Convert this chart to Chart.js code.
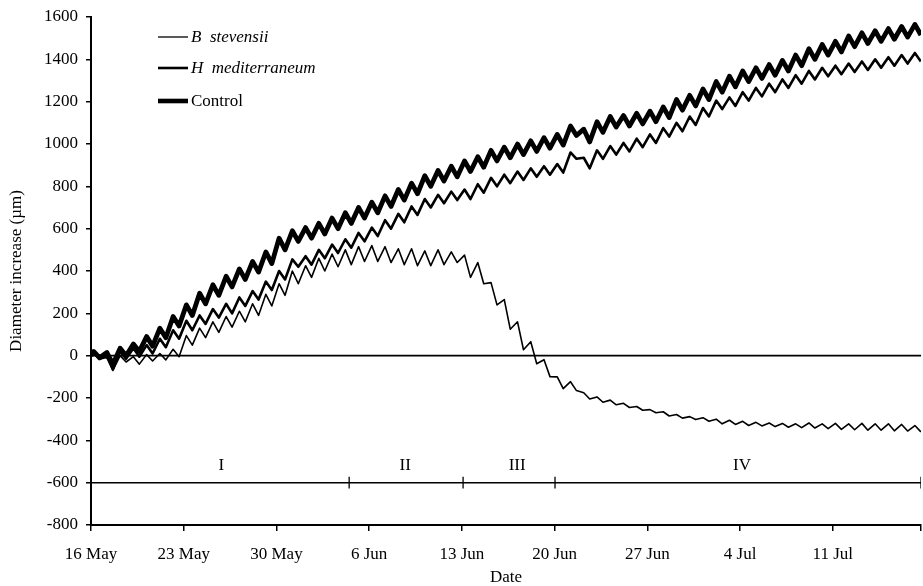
<!DOCTYPE html>
<html>
<head>
<meta charset="utf-8">
<script src="https://cdn.jsdelivr.net/npm/chart.js@4.4.1/dist/chart.umd.min.js"></script>
<style>
html,body{margin:0;padding:0;background:#fff;}
#wrap{width:923px;height:586px;position:relative;}
</style>
</head>
<body>
<div id="wrap"><canvas id="c" width="923" height="586"></canvas></div>
<script>
// ---- Data ----
// Date axis: days after 16 May
const tickDays   = [0, 7, 14, 21, 28, 35, 42, 49, 56];
const tickLabels = ['16 May', '23 May', '30 May', '6 Jun', '13 Jun', '20 Jun', '27 Jun', '4 Jul', '11 Jul'];
const lastDay = 62.66;

// Daily maximum (early morning) and minimum (afternoon) diameter increase, µm, days 0..62
const controlPeak   = [20,15,35,55,90,130,185,240,295,335,375,410,445,490,555,590,605,625,650,675,700,725,755,785,815,850,875,895,920,940,970,985,1000,1015,1030,1045,1085,1070,1105,1130,1135,1145,1155,1175,1210,1230,1260,1295,1320,1345,1360,1375,1395,1420,1450,1470,1485,1510,1525,1535,1545,1555,1565];
const controlTrough = [-10,-40,0,20,45,85,140,190,245,285,325,360,395,435,500,540,555,575,600,625,650,675,705,735,765,800,825,845,870,890,920,935,950,965,980,995,1040,1010,1055,1080,1085,1095,1105,1125,1160,1180,1210,1245,1270,1295,1310,1325,1345,1370,1400,1420,1435,1460,1475,1485,1495,1505,1515];

const hmedPeak   = [15,-5,20,35,50,80,120,165,190,220,245,275,305,350,400,455,470,500,525,550,580,605,640,670,705,740,760,775,785,810,840,855,870,885,895,905,960,935,970,990,1005,1025,1045,1075,1100,1130,1170,1205,1220,1245,1265,1285,1305,1325,1345,1360,1370,1380,1390,1400,1410,1420,1430];
const hmedTrough = [-15,-65,-15,-5,10,40,80,120,150,180,200,235,265,310,360,420,430,460,485,510,540,565,600,630,665,700,720,735,740,770,800,815,830,845,855,865,930,885,930,950,965,985,1005,1035,1060,1090,1130,1165,1180,1205,1225,1245,1265,1285,1305,1320,1330,1340,1350,1360,1370,1380,1390];

const bstevPeak   = [10,0,0,-5,5,10,30,95,130,160,185,210,245,290,340,400,425,460,480,500,515,520,515,505,505,495,500,490,475,440,345,265,160,66,-19,-100,-123,-175,-195,-210,-225,-240,-255,-265,-278,-288,-293,-300,-305,-310,-315,-318,-320,-322,-318,-322,-320,-322,-320,-322,-322,-325,-330];
const bstevTrough = [-10,-70,-30,-40,-25,-20,-5,50,85,110,135,160,190,235,285,340,370,400,420,430,445,445,440,430,425,425,430,440,370,340,240,125,28,-38,-99,-156,-165,-205,-220,-232,-245,-258,-270,-285,-295,-302,-310,-322,-325,-330,-332,-335,-338,-340,-342,-345,-348,-350,-352,-352,-355,-356,-360];

const startValue = 0; // all series are zeroed on 16 May

// Phases of the experiment (day boundaries) and their labels
const phaseNames  = ['I', 'II', 'III', 'IV'];
const phaseBounds = [0, 19.49, 28.09, 35.03, lastDay];
const phaseLabelDays = [9.83, 23.72, 32.17, 49.15];
const phaseLineValue = -600;

const seriesNames = ['B  stevensii', 'H  mediterraneum', 'Control'];

// ---- build point tables ----
function buildSeries(peak, trough) {
  const pts = [{x: 0, y: startValue}];
  for (let i = 0; i < peak.length; i++) {
    pts.push({x: i + 0.2, y: peak[i]});
    pts.push({x: i + 0.65, y: trough[i]});
  }
  return pts;
}

const FONT = '"Liberation Serif", "Times New Roman", serif';
const black = '#000';

const datasets = [
  {label: 'zero', data: [{x: 0, y: 0}, {x: lastDay, y: 0}], borderWidth: 1.8},
  {label: 'phase', data: [{x: 0, y: phaseLineValue}, {x: lastDay, y: phaseLineValue}], borderWidth: 1.5},
  {label: seriesNames[0], data: buildSeries(bstevPeak, bstevTrough), borderWidth: 1.6},
  {label: seriesNames[1], data: buildSeries(hmedPeak, hmedTrough), borderWidth: 2.6},
  {label: seriesNames[2], data: buildSeries(controlPeak, controlTrough), borderWidth: 4.8}
];
phaseBounds.slice(1).forEach(b => {
  datasets.push({label: 'tick', data: [{x: b, y: phaseLineValue - 28}, {x: b, y: phaseLineValue + 28}], borderWidth: 1.3});
});
datasets.forEach(d => {
  d.showLine = true; d.borderColor = black; d.backgroundColor = black;
  d.pointRadius = 0; d.pointHoverRadius = 0; d.tension = 0; d.fill = false;
  d.borderJoinStyle = 'round';
});

const overlay = {
  id: 'overlay',
  afterDatasetsDraw(chart) {
    const ctx = chart.ctx, xs = chart.scales.x, ys = chart.scales.y;
    ctx.save();
    ctx.fillStyle = black;
    ctx.strokeStyle = black;
    // phase labels
    ctx.font = '17px ' + FONT;
    ctx.textAlign = 'center';
    ctx.textBaseline = 'middle';
    phaseNames.forEach((n, i) => {
      ctx.fillText(n, xs.getPixelForValue(phaseLabelDays[i]), ys.getPixelForValue(-520));
    });
    // legend
    const lx0 = 158, lx1 = 188, tx = 191;
    const ly = [37, 68, 101];
    const lw = [1.3, 2.6, 4.6];
    const italic = [true, true, false];
    seriesNames.forEach((n, i) => {
      ctx.lineWidth = lw[i];
      ctx.beginPath(); ctx.moveTo(lx0, ly[i]); ctx.lineTo(lx1, ly[i]); ctx.stroke();
      ctx.font = (italic[i] ? 'italic ' : '') + '17px ' + FONT;
      ctx.textAlign = 'left';
      ctx.textBaseline = 'middle';
      ctx.fillText(n, tx, ly[i] + 1);
    });
    ctx.restore();
  }
};

new Chart(document.getElementById('c'), {
  type: 'scatter',
  data: {datasets},
  plugins: [overlay],
  options: {
    responsive: false,
    animation: false,
    devicePixelRatio: 1,
    layout: {padding: {top: 17, right: 2, left: 0, bottom: 0}},
    plugins: {legend: {display: false}, tooltip: {enabled: false}},
    scales: {
      x: {
        type: 'linear', min: 0, max: lastDay,
        afterBuildTicks: s => { s.ticks = tickDays.concat([lastDay]).map(v => ({value: v})); },
        afterFit: s => { s.height = 61; s.paddingRight = 0; s.paddingLeft = 0; },
        ticks: {
          autoSkip: false, maxRotation: 0, color: black, padding: 13,
          font: {family: FONT, size: 17},
          callback: v => { const i = tickDays.indexOf(v); return i >= 0 ? tickLabels[i] : ''; }
        },
        grid: {drawOnChartArea: false, drawTicks: true, tickLength: 6, color: black, lineWidth: 1.5},
        border: {display: true, color: black, width: 2},
        title: {display: true, text: 'Date', color: black, font: {family: FONT, size: 17}, padding: {top: 0, bottom: -2}}
      },
      y: {
        min: -800, max: 1600,
        afterFit: s => { s.width = 91; s.paddingTop = 0; s.paddingBottom = 0; },
        ticks: {stepSize: 200, color: black, padding: 8, font: {family: FONT, size: 17}, callback: v => String(v)},
        grid: {drawOnChartArea: false, drawTicks: true, tickLength: 5, color: black, lineWidth: 1.5},
        border: {display: true, color: black, width: 2},
        title: {display: true, text: 'Diameter increase (µm)', color: black, font: {family: FONT, size: 17}, padding: {top: 6, bottom: 0}}
      }
    }
  }
});
</script>
</body>
</html>
